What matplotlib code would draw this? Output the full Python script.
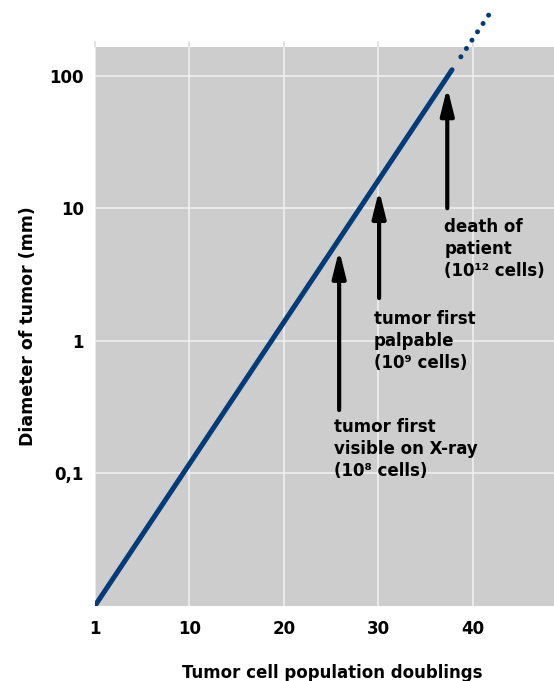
import matplotlib
matplotlib.use("Agg")
import matplotlib.pyplot as plt

# tumor growth line (doublings vs diameter in mm)
solid_doublings = [0, 37.8]
solid_diameter = [0.01, 111]
dotted_doublings = [38.74, 41.75]
dotted_diameter = [139, 292]

x_ticks = [0, 10, 20, 30, 40]
x_tick_labels = ["1", "10", "20", "30", "40"]
y_ticks = [0.1, 1, 10, 100]
y_tick_labels = ["0,1", "1", "10", "100"]

# arrows: (x, tail y, tip y)
arrow_x = [25.85, 30.08, 37.3]
arrow_tail = [0.30, 2.10, 10.0]
arrow_tip = [4.84, 13.7, 81.7]

label_texts = ["tumor first\nvisible on X-ray\n(10\u2078 cells)",
               "tumor first\npalpable\n(10\u2079 cells)",
               "death of\npatient\n(10\u00b9\u00b2 cells)"]
label_x = [25.3, 29.55, 36.97]
label_y = [0.152, 1.0, 4.95]

blue = "#013b7a"
plt.rcParams["font.family"] = ["DejaVu Sans"]
plt.rcParams["font.weight"] = "bold"

fig = plt.figure(figsize=(5.54, 6.81), dpi=100)
ax = fig.add_axes([95 / 554, 1 - 605.7 / 681, 1 - 95 / 554, (605.7 - 47.3) / 681])
ax.set_facecolor("#cdcdcd")
ax.set_yscale("log")
ax.set_xlim(0, 48.6)
ax.set_ylim(0.01, 164)

ax.grid(True, color="#f2f2f2", linewidth=1.1)
ax.set_axisbelow(True)
for s in ax.spines.values():
    s.set_visible(False)

ax.set_xticks(x_ticks)
ax.set_xticklabels(x_tick_labels, fontsize=12, fontweight="bold")
ax.set_yticks(y_ticks)
ax.set_yticklabels(y_tick_labels, fontsize=12, fontweight="bold")
ax.yaxis.set_minor_locator(matplotlib.ticker.NullLocator())
ax.tick_params(axis="y", length=0, pad=8)
ax.tick_params(axis="x", bottom=False, top=True, labeltop=False, labelbottom=True,
               length=4, width=1.1, color="#d8d8d8", pad=6)

ax.plot(solid_doublings, solid_diameter, color=blue, linewidth=3.6,
        solid_capstyle="round", zorder=3)
ax.plot(dotted_doublings, dotted_diameter, color=blue, linewidth=3.6,
        linestyle=(0, (0.01, 1.99)), dash_capstyle="round", clip_on=False, zorder=3)

for x, y0, y1 in zip(arrow_x, arrow_tail, arrow_tip):
    ax.annotate("", xy=(x, y1), xytext=(x, y0),
                arrowprops=dict(arrowstyle="-|>,head_length=1.6,head_width=0.4",
                                color="black", lw=3, mutation_scale=10,
                                shrinkA=0, shrinkB=0), zorder=4)

for t, x, y in zip(label_texts, label_x, label_y):
    ax.text(x, y, t, fontsize=12, fontweight="bold", ha="left", va="center",
            linespacing=1.3, zorder=5)

ax.set_xlabel("Tumor cell population doublings", fontsize=12, fontweight="bold")
ax.xaxis.set_label_coords(0.516, -0.1205)
ax.xaxis.label.set_va("center")
ax.set_ylabel("Diameter of tumor (mm)", fontsize=12.5, fontweight="bold")
ax.yaxis.set_label_coords(-0.146, 0.5)
ax.yaxis.label.set_va("center")

fig.savefig("out.png", dpi=100)
